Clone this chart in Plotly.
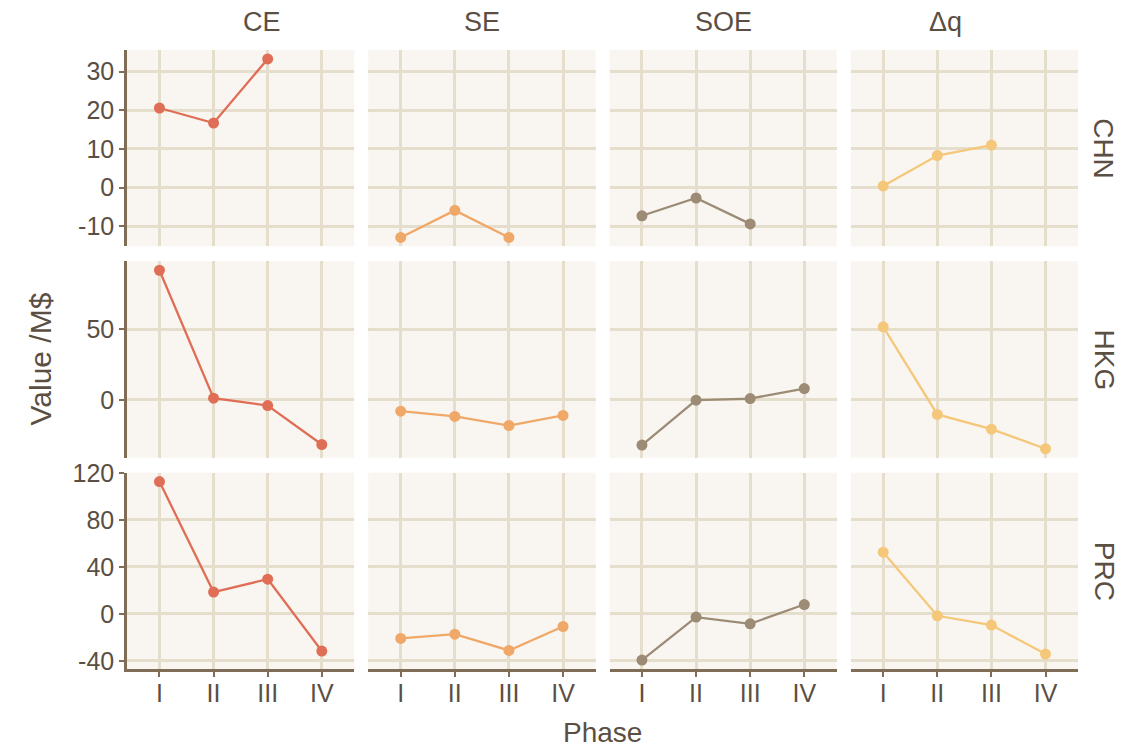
import plotly.graph_objects as go
from plotly.subplots import make_subplots

phases = ["I", "II", "III", "IV"]
series_names = ["CE", "SE", "SOE", "Δq"]
regions = ["CHN", "HKG", "PRC"]

# values per region, per series (phase I..IV)
chn_ce = [20.6, 16.7, 33.3, None]
chn_se = [-12.9, -5.9, -12.9, None]
chn_soe = [-7.3, -2.7, -9.4, None]
chn_dq = [0.4, 8.3, 11.0, None]

hkg_ce = [91.5, 1.2, -4.0, -31.5]
hkg_se = [-8.0, -11.7, -18.1, -11.0]
hkg_soe = [-31.9, -0.2, 0.9, 8.0]
hkg_dq = [51.6, -10.3, -20.7, -34.5]

prc_ce = [112.6, 18.5, 29.5, -31.7]
prc_se = [-21.0, -17.3, -31.2, -10.8]
prc_soe = [-39.4, -2.8, -8.5, 7.9]
prc_dq = [52.5, -1.7, -9.6, -34.3]

y_ticks_chn = [-10, 0, 10, 20, 30]
y_ticks_hkg = [0, 50]
y_ticks_prc = [-40, 0, 40, 80, 120]

data = {
    "CHN": [chn_ce, chn_se, chn_soe, chn_dq],
    "HKG": [hkg_ce, hkg_se, hkg_soe, hkg_dq],
    "PRC": [prc_ce, prc_se, prc_soe, prc_dq],
}
row_ticks = {"CHN": y_ticks_chn, "HKG": y_ticks_hkg, "PRC": y_ticks_prc}

colors = ["#E06E56", "#F0A868", "#9C8B75", "#F5C77A"]
panel_bg = "#F9F6F1"
grid_c = "#E6DECC"
axis_c = "#7F6D58"
text_c = "#5B4F43"
FONT = "Liberation Sans, Arial, sans-serif"

# page body has an 8px margin, so the figure is offset by 8px
W, H = 1131, 741
ml, mr, mt, mb = 119, 61, 42, 80
pw = W - ml - mr
ph = H - mt - mb

fig = make_subplots(rows=3, cols=4, horizontal_spacing=14 / pw,
                    vertical_spacing=15 / ph, shared_yaxes=False)

for r, reg in enumerate(regions, start=1):
    vals_all = [v for s in data[reg] for v in s if v is not None]
    lo, hi = min(vals_all), max(vals_all)
    pad = (hi - lo) * 0.05
    yr = [lo - pad, hi + pad]
    for c, name in enumerate(series_names, start=1):
        fig.add_trace(go.Scatter(
            x=phases, y=data[reg][c - 1], mode="lines+markers",
            line=dict(color=colors[c - 1], width=2.3),
            marker=dict(color=colors[c - 1], size=11),
            showlegend=False, connectgaps=False, cliponaxis=False,
        ), row=r, col=c)
        fig.update_yaxes(
            range=yr, tickvals=row_ticks[reg], ticktext=[str(t) for t in row_ticks[reg]],
            showgrid=True, gridcolor=grid_c, gridwidth=2.5, zeroline=False,
            showticklabels=(c == 1),
            showline=(c == 1), linecolor=axis_c, linewidth=2.5,
            ticks="outside" if c == 1 else "", ticklen=5, tickwidth=2, tickcolor=axis_c,
            tickfont=dict(size=25, color=text_c, family=FONT),
            ticklabelstandoff=0,
            row=r, col=c)
        fig.update_xaxes(
            type="category", categoryorder="array", categoryarray=phases,
            range=[-0.6, 3.6],
            showgrid=True, gridcolor=grid_c, gridwidth=2.5, zeroline=False,
            showticklabels=(r == 3),
            showline=(r == 3), linecolor=axis_c, linewidth=2.5,
            ticks="outside" if r == 3 else "", ticklen=5, tickwidth=2, tickcolor=axis_c,
            tickfont=dict(size=25, color=text_c, family=FONT),
            ticklabelstandoff=-5,
            row=r, col=c)

annotations = []
# column strip labels
for c, name in enumerate(series_names, start=1):
    xa = fig.layout["xaxis" + ("" if c == 1 else str(c))]
    xc = (xa.domain[0] + xa.domain[1]) / 2
    annotations.append(dict(text=name, x=xc, xref="paper", y=1, yref="paper",
                            yshift=28, yanchor="middle", showarrow=False,
                            font=dict(size=27, color=text_c, family=FONT)))
# row strip labels
for r, reg in enumerate(regions, start=1):
    idx = (r - 1) * 4 + 1
    ya = fig.layout["yaxis" + ("" if idx == 1 else str(idx))]
    yc = (ya.domain[0] + ya.domain[1]) / 2
    annotations.append(dict(text=reg, x=1, xref="paper", y=yc, yref="paper",
                            xshift=26, xanchor="center", yanchor="middle",
                            textangle=90, showarrow=False,
                            font=dict(size=28, color=text_c, family=FONT)))
# axis titles
annotations.append(dict(text="Phase", x=0.5, xref="paper", y=0, yref="paper",
                        yshift=-63, yanchor="middle", showarrow=False,
                        font=dict(size=28, color=text_c, family=FONT)))
annotations.append(dict(text="Value /M$", x=0, xref="paper", y=0.5, yref="paper",
                        xshift=-87, xanchor="center", yanchor="middle",
                        textangle=-90, showarrow=False,
                        font=dict(size=30, color=text_c, family=FONT)))

fig.update_layout(
    width=W, height=H,
    margin=dict(l=ml, r=mr, t=mt, b=mb),
    paper_bgcolor="white", plot_bgcolor=panel_bg,
    font=dict(family=FONT, color=text_c),
    annotations=annotations,
)

fig.write_html("out.html")
